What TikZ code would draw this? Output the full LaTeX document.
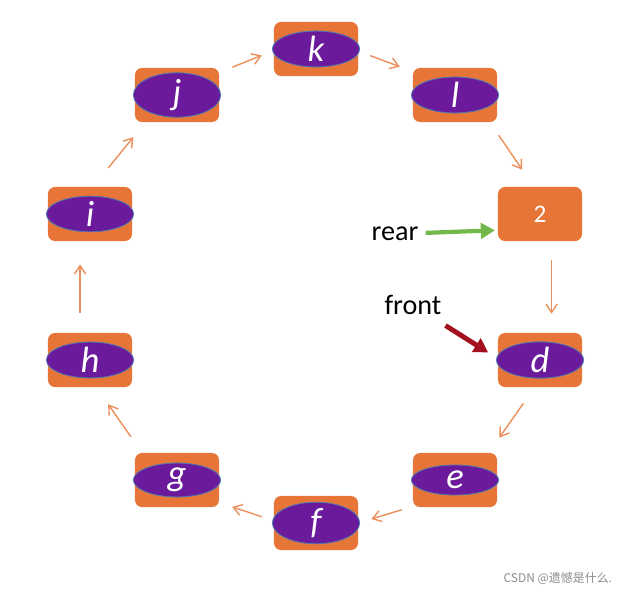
\documentclass[tikz,border=0pt]{standalone}
\usepackage{fontspec}
\setmainfont{Carlito}
\newfontfamily\cjkfont{Noto Sans CJK SC}
\usetikzlibrary{shapes.geometric}
\usetikzlibrary{arrows.meta}
\definecolor{cellorange}{HTML}{E67537}
\definecolor{itempurple}{HTML}{6A1A9A}
\definecolor{itemedge}{HTML}{4F78B0}
\definecolor{linkorange}{HTML}{EB8F5C}
\definecolor{reargreen}{HTML}{72B84A}
\definecolor{frontred}{HTML}{A3101E}
\tikzstyle{cell}=[fill=cellorange, rounded corners=5pt, minimum width=2.1cm, minimum height=1.35cm, inner sep=0pt]
\tikzstyle{item}=[ellipse, fill=itempurple, draw=itemedge, line width=0.6pt, minimum width=2.18cm, minimum height=0.75cm, inner sep=0pt, text=white, font=\fontsize{26}{28}\selectfont\itshape]
\tikzstyle{link}=[draw=linkorange, line width=1pt, -{Straight Barb[length=6pt,width=8pt]}]
\tikzstyle{pointer}=[inner sep=0pt, font=\fontsize{20}{24}\selectfont]

\begin{document}
\begin{tikzpicture}[x=0.025cm, y=-0.025cm]
        \useasboundingbox (0,0) rectangle (630,590);
        \node[cell]                 (k) at (316, 49) {};
        \node[cell]                 (l) at (455, 95) {};
        \node[cell, text=white, font=\fontsize{18}{20}\selectfont] (two) at (540, 214) {2};
        \node[cell]                 (d) at (540, 360) {};
        \node[cell]                 (e) at (455, 480) {};
        \node[cell]                 (f) at (316, 523) {};
        \node[cell]                 (g) at (177, 480) {};
        \node[cell]                 (h) at (90, 360) {};
        \node[cell]                 (i) at (90, 214) {};
        \node[cell]                 (j) at (177, 95) {};
        \node[item]                 (k-v) at (k) {k};
        \node[item]                 (l-v) at (l) {l};
        \node[item]                 (d-v) at (d) {d};
        \node[item]                 (e-v) at (e) {e};
        \node[item]                 (f-v) at (f) {f};
        \node[item]                 (g-v) at (g) {g};
        \node[item]                 (h-v) at (h) {h};
        \node[item]                 (i-v) at (i) {i};
        \node[item]                 (j-v) at (j) {j};
        \node[pointer]              (rear) at (395, 234) {rear};
        \node[pointer]              (front) at (413, 305) {front};
        \node[font=\cjkfont\fontsize{8.5}{10}\selectfont, text=black!45, anchor=east] (mark) at (617, 578) {CSDN @遗憾是什么.};
        % ring of links
        \draw[link, shorten <=10pt, shorten >=9.2pt] (j.28.5) -- (k.182);
        \draw[link, shorten <=9.1pt, shorten >=9.8pt] (k.-3.5) -- (l.151);
        \draw[link, shorten <=11.2pt, shorten >=14.6pt] (l.-38.4) -- (two.103);
        \draw[link, shorten <=13.5pt, shorten >=13.5pt] (two.-67.8) -- (d.67.8);
        \draw[link, shorten <=14pt, shorten >=13.1pt] (d.-101.7) -- (e.39.9);
        \draw[link, shorten <=8.2pt, shorten >=9.7pt] (e.-148.8) -- (f.0);
        \draw[link, shorten <=9pt, shorten >=9.7pt] (f.177.3) -- (g.-28.4);
        \draw[link, shorten <=13.9pt, shorten >=14.7pt] (g.142.2) -- (h.-77.3);
        \draw[link, shorten <=14.2pt, shorten >=16.4pt] (h.110.3) -- (i.-110.3);
        \draw[link, shorten <=17.3pt, shorten >=13.7pt] (i.84.3) -- (j.-139.8);
        % rear and front
        \draw[reargreen, line width=3pt, -{Triangle[length=10pt,width=11pt]}, shorten <=5pt, shorten >=2pt] (rear) -- (two.201);
        \draw[frontred, line width=3.5pt, -{Triangle[length=10pt,width=11pt]}, shorten <=14pt, shorten >=8pt] (front) -- (d.178);
    \end{tikzpicture}
\end{document}
